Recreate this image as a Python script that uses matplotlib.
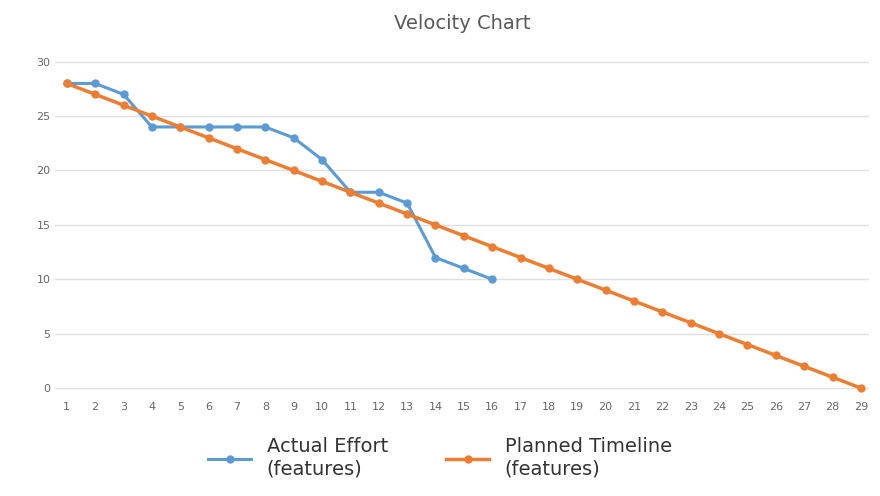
import matplotlib.pyplot as plt

days = list(range(1, 30))
actual = [28, 28, 27, 24, 24, 24, 24, 24, 23, 21, 18, 18, 17, 12, 11, 10]
planned = [28 - i for i in range(29)]

fig = plt.figure(figsize=(8.8, 4.96), dpi=100)
ax = fig.add_axes([0.063, 0.2, 0.925, 0.68])

ax.plot(days[:len(actual)], actual, color='#5b9bd5', marker='o', markersize=5,
        linewidth=2.2, label='Actual Effort\n(features)')
ax.plot(days, planned, color='#ed7d31', marker='o', markersize=5,
        linewidth=2.5, label='Planned Timeline\n(features)')

ax.set_xlim(0.6, 29.3)
ax.set_ylim(-0.8, 30.2)
ax.set_yticks(range(0, 31, 5))
ax.set_xticks(days)
ax.tick_params(labelsize=8, colors='#666666', length=0)
ax.grid(axis='y', color='#e0e0e0', linewidth=1)
for s in ax.spines.values():
    s.set_visible(False)

ax.set_title('Velocity Chart', fontsize=14, color='#595959', pad=22)
fig.legend(loc='lower center', ncol=2, frameon=False, fontsize=14,
           bbox_to_anchor=(0.5, 0.0), handlelength=2.2, columnspacing=3,
           labelcolor='#333333')

fig.savefig('out.png')
